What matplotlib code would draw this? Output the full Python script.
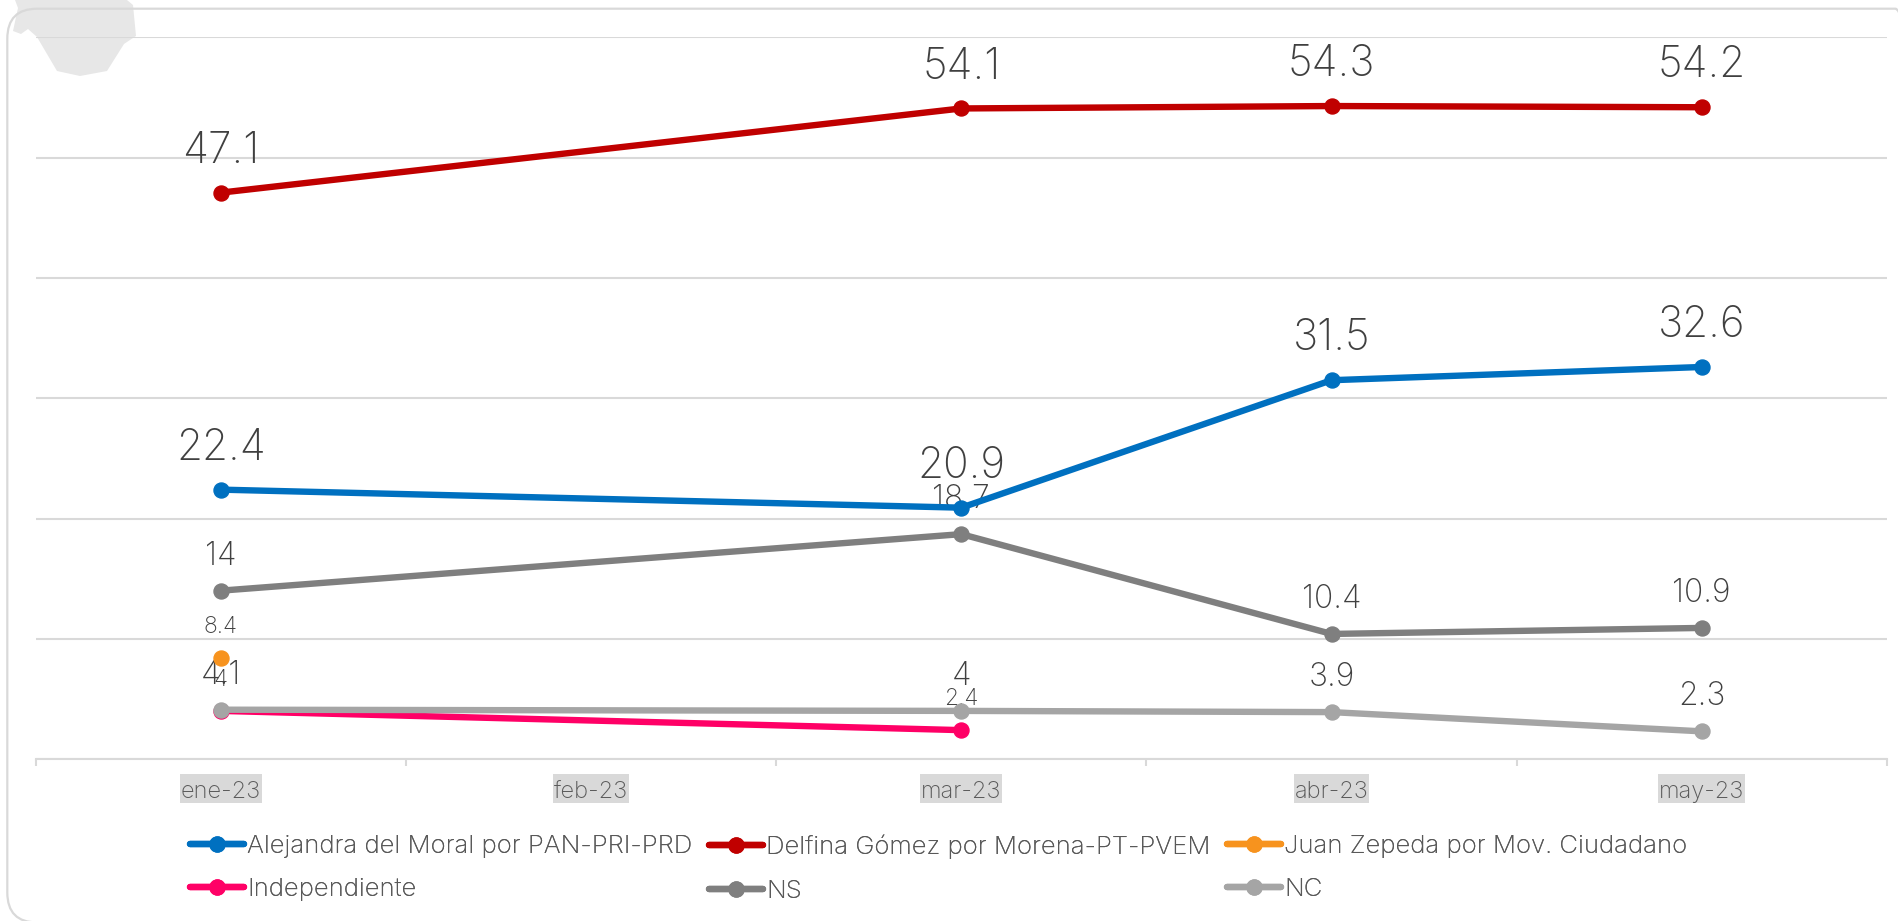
import matplotlib
matplotlib.use("Agg")
import matplotlib.pyplot as plt
from matplotlib.patches import FancyBboxPatch, Polygon, Rectangle

W, H = 1898, 921

months = ["ene-23", "feb-23", "mar-23", "abr-23", "may-23"]

alejandra = [22.4, None, 20.9, 31.5, 32.6]
delfina = [47.1, None, 54.1, 54.3, 54.2]
juan = [8.4, None, None, None, None]
independiente = [4, None, 2.4, None, None]
ns = [14, None, 18.7, 10.4, 10.9]
nc = [4.1, None, 4, 3.9, 2.3]

# name, values, colour, label size, label offset
series = [
    ("Alejandra del Moral por PAN-PRI-PRD", alejandra, "#0070C0", 30.5, 21.5),
    ("Delfina Gómez por Morena-PT-PVEM", delfina, "#C00000", 30.5, 21.5),
    ("Juan Zepeda por Mov. Ciudadano", juan, "#F7931E", 16.5, 18),
    ("Independiente", independiente, "#FF0066", 16.5, 18),
    ("NS", ns, "#7F7F7F", 23, 18.7),
    ("NC", nc, "#A5A5A5", 23, 18.7),
]

plt.rcParams["font.family"] = ["Inter", "DejaVu Sans"]
plt.rcParams["font.weight"] = "light"

fig = plt.figure(figsize=(W / 100, H / 100), dpi=100)


# Convert picture pixels (origin top left) to figure fractions
def px(x, y):
    return x / W, 1 - y / H


# Grey blob in the corner, sits behind everything
blob = [(15, 0), (18, 8), (13, 31), (21, 34), (28, 29), (37, 37), (57, 71), (80, 76),
        (107, 71), (124, 44), (136, 36), (133, 5), (127, 0)]
fig.add_artist(Polygon([px(*p) for p in blob], closed=True, transform=fig.transFigure,
                       facecolor="#E7E7E7", edgecolor="none", zorder=-5))

# Rounded outer frame, runs off the right and bottom of the picture
fig.add_artist(FancyBboxPatch((7.3, H - 922.5), 1918, 913.8,
                              boxstyle="round,pad=0,rounding_size=30",
                              transform=None, facecolor="none",
                              edgecolor="#D9D9D9", linewidth=1.6, zorder=-4))

ax = fig.add_axes([35.8 / W, 1 - 759 / H, 1851 / W, 721.5 / H])
ax.patch.set_alpha(0)
ax.set_xlim(-0.5, 4.5)
ax.set_ylim(0, 60)
ax.set_yticks(range(0, 70, 10))
ax.tick_params(axis="y", length=0, labelleft=False)
ax.grid(axis="y", color="#D9D9D9", linewidth=1.5, zorder=0)
ax.set_axisbelow(True)
for side in ["top", "left", "right"]:
    ax.spines[side].set_visible(False)
ax.spines["bottom"].set_color("#D9D9D9")
ax.spines["bottom"].set_linewidth(1.5)

# Ticks fall between the months, labels stay centred on them
ax.set_xticks([i - 0.5 for i in range(len(months) + 1)])
ax.set_xticks(range(len(months)), minor=True)
ax.set_xticklabels(months, minor=True, color="#595959", fontsize=17)
ax.tick_params(axis="x", which="major", length=5, width=1.5, color="#D9D9D9", labelbottom=False)
ax.tick_params(axis="x", which="minor", length=0, pad=15.5)

for label, values, color, size, offset in series:
    xs = [i for i, v in enumerate(values) if v is not None]
    ys = [values[i] for i in xs]
    ax.plot(xs, ys, color=color, linewidth=4.6, marker="o", markersize=10.8, label=label,
            solid_capstyle="round", zorder=4)
    for x, y in zip(xs, ys):
        ax.annotate(str(y), (x, y), xytext=(0, offset), textcoords="offset points", ha="center",
                    va="baseline", fontsize=size, color="#404040", zorder=3)

handles, labels = ax.get_legend_handles_labels()
for col, x in enumerate([190, 709, 1227]):
    pair = [col, col + 3]
    ax.add_artist(fig.legend([handles[i] for i in pair], [labels[i] for i in pair],
                             loc="upper left", bbox_to_anchor=px(x, 834.5), frameon=False,
                             fontsize=18.5, labelcolor="#595959", handlelength=2.1,
                             handletextpad=0.12, labelspacing=0.8, borderpad=0, borderaxespad=0))

# Grey highlight behind month labels, same height for all of them
fig.canvas.draw()
for tick_label in ax.get_xticklabels(minor=True):
    box = tick_label.get_window_extent()
    x0, y0 = px(box.x0 - 1, 803)
    x1, y1 = px(box.x1 + 1, 774)
    fig.add_artist(Rectangle((x0, y0), x1 - x0, y1 - y0, transform=fig.transFigure,
                             facecolor="#D9D9D9", edgecolor="none", zorder=-3))

fig.savefig("out.png", dpi=100)
